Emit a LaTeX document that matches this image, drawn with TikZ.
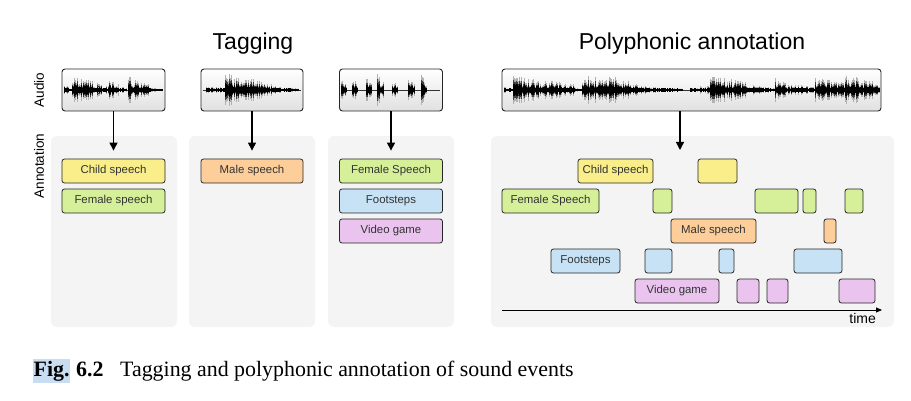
\documentclass[tikz,border=0pt]{standalone}
\usepackage{fontspec}
\setmainfont{Liberation Sans}
\newfontfamily\capfont{Liberation Serif}
\usetikzlibrary{arrows.meta,calc}

\definecolor{childc}{HTML}{F9EE8A}
\definecolor{femc}{HTML}{D6F09A}
\definecolor{malec}{HTML}{FDCE9A}
\definecolor{stepc}{HTML}{C6E2F4}
\definecolor{gamec}{HTML}{EAC4EE}
\definecolor{panelc}{HTML}{F4F4F4}
\definecolor{hlc}{HTML}{C8DCF2}

\tikzset{
  panel/.style={fill=panelc, rounded corners=6pt, inner sep=0pt},
  wavebox/.style={draw=black!85, line width=0.9pt, rounded corners=3pt, top color=white, bottom color=black!12, inner sep=0pt, minimum height=42pt},
  tag/.style={draw=black!85, line width=0.8pt, rounded corners=2.5pt, minimum height=24pt, inner sep=0pt, text=black!80, font=\fontsize{11.4}{13}\selectfont},
  arr/.style={line width=1.1pt, -{Triangle[length=8pt,width=8pt]}},
  axislabel/.style={rotate=90, font=\fontsize{13.5}{16}\selectfont}
}

\begin{document}
\begin{tikzpicture}[x=1pt, y=-1pt]
\useasboundingbox (0,0) rectangle (911,401);

%titles
\node[anchor=base, font=\fontsize{23}{27}\selectfont] (tagtitle) at (253,50) {Tagging};
\node[anchor=base, font=\fontsize{23}{27}\selectfont] (polytitle) at (692,50) {Polyphonic annotation};
\node[axislabel] (audio) at (39,90) {Audio};
\node[axislabel] (annot) at (39,166) {Annotation};

%panels
\node[panel, minimum width=126, minimum height=191] (p1) at (114,231.5) {};
\node[panel, minimum width=126, minimum height=191] (p2) at (252,231.5) {};
\node[panel, minimum width=126, minimum height=191] (p3) at (391,231.5) {};
\node[panel, minimum width=403, minimum height=191] (p4) at (692.5,231.5) {};

%audio boxes
\node[wavebox, minimum width=103] (w1) at (113.5,90) {};
\node[wavebox, minimum width=102] (w2) at (252,90) {};
\node[wavebox, minimum width=103] (w3) at (391,90) {};
\node[wavebox, minimum width=379] (wp) at (691.5,90) {};

%waveforms
\draw[black!80, line width=0.6pt] (64,90) -- (163,90) (203,90) -- (301,90) (342,90) -- (440,90) (504,90) -- (879,90);
\pgfmathsetseed{17}
\foreach \s/\e/\amp in {64/72/5, 72/98/15, 98/108/6, 108/118/11, 118/126/4, 128/135/16, 136/150/9, 150/162/2,
    206/225/4, 225/262/17, 262/275/8, 275/298/3,
    341/346/10, 352/357/12, 366/371/12, 377/383/17, 392/397/10, 408/414/11, 421/426/15,
    504/513/3, 513/548/15, 548/575/10, 575/582/2, 582/605/17, 605/630/16, 630/650/7, 650/682/3,
    690/700/3, 700/710/6, 710/745/15, 745/760/7, 760/775/4, 775/785/13, 785/815/6, 815/845/13, 845/879/15} {
  \foreach \x in {\s,...,\e} {
    \pgfmathsetmacro{\h}{\amp*(0.25+0.75*rnd)*(1-0.45*(\x-\s)/(\e-\s+1))}
    \draw[black!30, line width=1pt] (\x,90-\h) -- (\x,90+\h);
    \draw[black!75, line width=0.9pt] (\x,90-0.7*\h) -- (\x,90+0.7*\h);
    \draw[black, line width=1pt] (\x,90-0.4*\h-0.8) -- (\x,90+0.4*\h+0.8);
  }
}

%tagging
\node[tag, fill=childc, minimum width=103] (t1a) at (113.5,171) {Child speech};
\node[tag, fill=femc, minimum width=103] (t1b) at (113.5,201) {Female speech};
\node[tag, fill=malec, minimum width=102] (t2a) at (252,171) {Male speech};
\node[tag, fill=femc, minimum width=103] (t3a) at (391,171) {Female Speech};
\node[tag, fill=stepc, minimum width=103] (t3b) at (391,201) {Footsteps};
\node[tag, fill=gamec, minimum width=103] (t3c) at (391,231) {Video game};

\draw[arr] (w1.south) -- ([yshift=8pt]t1a.north);
\draw[arr] (w2.south) -- ([yshift=8pt]t2a.north);
\draw[arr] (w3.south) -- ([yshift=8pt]t3a.north);

%polyphonic
\coordinate (pa) at (680,150);
\draw[arr] (wp.south -| pa) -- (pa);

\foreach \a/\b/\t [count=\i] in {578/653/Child speech, 698/737/{}}
  \node[tag, fill=childc, minimum width=\b-\a] (c\i) at ({(\a+\b)/2},171) {\t};
\foreach \a/\b/\t [count=\i] in {502/599/Female Speech, 653/672/{}, 755/798/{}, 803/816/{}, 845/863/{}}
  \node[tag, fill=femc, minimum width=\b-\a] (f\i) at ({(\a+\b)/2},201) {\t};
\foreach \a/\b/\t [count=\i] in {671/756/Male speech, 824/836/{}}
  \node[tag, fill=malec, minimum width=\b-\a] (m\i) at ({(\a+\b)/2},231) {\t};
\foreach \a/\b/\t [count=\i] in {551/620/Footsteps, 645/672/{}, 719/734/{}, 794/842/{}}
  \node[tag, fill=stepc, minimum width=\b-\a] (s\i) at ({(\a+\b)/2},261) {\t};
\foreach \a/\b/\t [count=\i] in {635/719/Video game, 737/759/{}, 767/788/{}, 839/875/{}}
  \node[tag, fill=gamec, minimum width=\b-\a] (g\i) at ({(\a+\b)/2},291) {\t};

%time axis
\coordinate (t0) at (502,310);
\coordinate (t1) at (882,310);
\draw[line width=0.9pt, -{Triangle[length=6pt,width=5pt]}] (t0) -- (t1);
\node[anchor=base east, inner sep=0pt, font=\fontsize{14}{16}\selectfont] (time) at (876,323) {time};

%caption
\node[anchor=base west, fill=hlc, inner xsep=0.5pt, inner ysep=2pt, font=\capfont\fontsize{21.9}{24}\selectfont\bfseries] (fig) at (33,376.5) {Fig.};
\node[anchor=base west, inner sep=0pt, font=\capfont\fontsize{21.9}{24}\selectfont\bfseries] (num) at (76,376.5) {6.2};
\node[anchor=base west, inner sep=0pt, font=\capfont\fontsize{21.9}{24}\selectfont] (cap) at (120,376.5) {Tagging and polyphonic annotation of sound events};

\end{tikzpicture}
\end{document}
